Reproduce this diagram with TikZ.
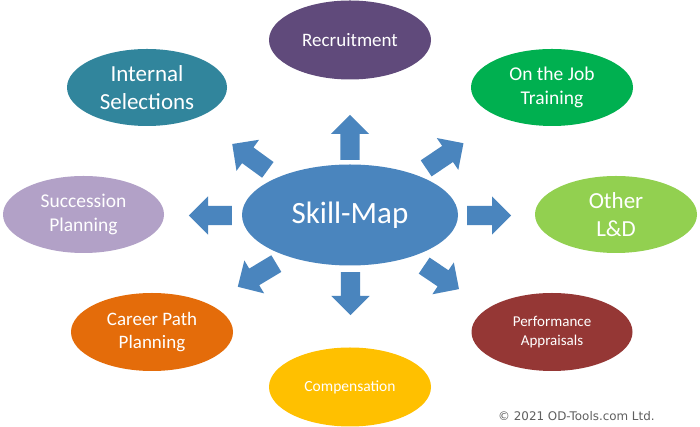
\documentclass[tikz,border=0pt]{standalone}
\usepackage{fontspec}
\setmainfont{Carlito}
\newfontfamily\cpfont{DejaVu Sans}
\usetikzlibrary{shapes.geometric,shapes.arrows}
\definecolor{mapblue}{HTML}{4A85BE}
\definecolor{recruitc}{HTML}{604A7B}
\definecolor{internalc}{HTML}{31859C}
\definecolor{ojtc}{HTML}{00B050}
\definecolor{successc}{HTML}{B2A1C7}
\definecolor{otherc}{HTML}{92D050}
\definecolor{careerc}{HTML}{E46C0A}
\definecolor{perfc}{HTML}{953735}
\definecolor{compc}{HTML}{FFC000}
\definecolor{copyc}{HTML}{5F5F5F}
\begin{document}
\begin{tikzpicture}[x=1pt,y=1pt,
  bubble/.style={ellipse, fill=#1, draw=none, inner sep=0pt, text=white, align=center},
  blockarrow/.style={single arrow, fill=mapblue, draw=none, inner xsep=0pt, inner ysep=9.5pt,
    single arrow head extend=9.5pt, single arrow tip angle=90,
    anchor=tail, minimum height=#1}]
\fill[white] (0,0) rectangle (700,427);
\useasboundingbox (0,0) rectangle (700,427);

% central bubble
\node[bubble=mapblue, minimum width=216pt, minimum height=101pt,
  font=\fontsize{31}{38}\selectfont] (skill) at (350,212) {Skill-Map};

% outer bubbles
\node[bubble=recruitc, minimum width=162pt, minimum height=79pt,
  font=\fontsize{19}{23}\selectfont] (rec) at (350,387) {Recruitment};
\node[bubble=internalc, minimum width=160pt, minimum height=77pt,
  font=\fontsize{23}{28}\selectfont] (int) at (147,339.5) {Internal\\Selections};
\node[bubble=ojtc, minimum width=162pt, minimum height=77pt,
  font=\fontsize{19.5}{24}\selectfont] (ojt) at (552,339.5) {On the Job\\Training};
\node[bubble=successc, minimum width=161pt, minimum height=77pt,
  font=\fontsize{19.5}{24}\selectfont] (suc) at (83.5,212.5) {Succession\\Planning};
\node[bubble=otherc, minimum width=162pt, minimum height=77pt,
  font=\fontsize{23}{28}\selectfont] (oth) at (616,212.5) {Other\\L\&D};
\node[bubble=careerc, minimum width=162pt, minimum height=78pt,
  font=\fontsize{19}{23.5}\selectfont] (car) at (152,95) {Career Path\\Planning};
\node[bubble=perfc, minimum width=161pt, minimum height=78pt,
  font=\fontsize{15}{18.5}\selectfont] (per) at (552,95) {Performance\\Appraisals};
\node[bubble=compc, minimum width=162pt, minimum height=79pt,
  font=\fontsize{15.5}{19}\selectfont] (com) at (350,40) {Compensation};

% block arrows
\node[blockarrow=45pt, rotate=90] (aup) at (350,267) {};
\node[blockarrow=43pt, rotate=-90] (adown) at (350.5,155) {};
\node[blockarrow=44pt, rotate=0] (aright) at (467,211.5) {};
\node[blockarrow=43pt, rotate=180] (aleft) at (232,211.5) {};
\node[blockarrow=44pt, rotate=144] (aul) at (268,257) {};
\node[blockarrow=45pt, rotate=34] (aur) at (426,258.5) {};
\node[blockarrow=45pt, rotate=211] (all) at (276.5,163.5) {};
\node[blockarrow=42pt, rotate=-34] (alr) at (424,161.5) {};

% copyright
\node[anchor=base west, inner sep=0pt, text=copyc,
  font=\cpfont\fontsize{11.9}{14}\selectfont] (copy) at (498,6) {© 2021 OD-Tools.com Ltd.};
\end{tikzpicture}
\end{document}
